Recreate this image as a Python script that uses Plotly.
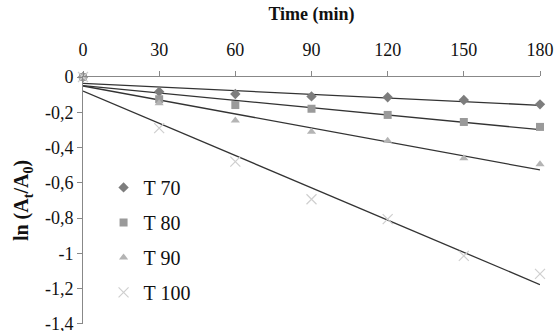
import numpy as np
import plotly.graph_objects as go

time_min = [0, 30, 60, 90, 120, 150, 180]
series_names = ["T 70", "T 80", "T 90", "T 100"]
t70 = [0, -0.083, -0.096, -0.110, -0.115, -0.130, -0.155]
t80 = [0, -0.126, -0.159, -0.180, -0.215, -0.255, -0.283]
t90 = [0, -0.149, -0.247, -0.310, -0.362, -0.460, -0.495]
t100 = [0, -0.290, -0.480, -0.693, -0.806, -1.014, -1.116]
y_tickvals = [0, -0.2, -0.4, -0.6, -0.8, -1.0, -1.2, -1.4]
y_ticktext = ["0", "-0,2", "-0,4", "-0,6", "-0,8", "-1", "-1,2", "-1,4"]
x_tickvals = [0, 30, 60, 90, 120, 150, 180]

values = [t70, t80, t90, t100]
symbols = ["diamond", "square", "triangle-up", "x-thin"]
colors = ["#7d7d7d", "#9a9a9a", "#b4b4b4", "#cfcfcf"]
sizes = [8, 8, 8, 10]

FONT = "Liberation Serif"
fig = go.Figure()

# trendlines (linear fits of the data)
for vals in values:
    slope, intercept = np.polyfit(time_min, vals, 1)
    xs = [min(time_min), max(time_min)]
    ys = [intercept + slope * x for x in xs]
    fig.add_trace(go.Scatter(x=xs, y=ys, mode="lines", showlegend=False,
                             line=dict(color="#333333", width=1.3), hoverinfo="skip"))

for i, (name, vals) in enumerate(zip(series_names, values)):
    marker = dict(symbol=symbols[i], color=colors[i], size=sizes[i])
    if symbols[i] == "x-thin":
        marker["line"] = dict(color=colors[i], width=1.2)
    fig.add_trace(go.Scatter(x=time_min, y=vals, mode="markers", name=name,
                             marker=marker, cliponaxis=False, legendgroup=name))

fig.update_layout(
    width=555, height=341,
    margin=dict(l=83, r=15, t=77, b=17, autoexpand=False),
    paper_bgcolor="white", plot_bgcolor="white",
    font=dict(family=FONT, size=18, color="#111111"),
    showlegend=True,
    legend=dict(x=0.045, y=0.632, xanchor="left", yanchor="top",
                font=dict(family=FONT, size=20, color="#111111"),
                tracegroupgap=6, itemwidth=30, bgcolor="rgba(0,0,0,0)"),
    xaxis=dict(range=[0, 180], side="top", tickvals=x_tickvals,
               ticks="outside", ticklen=5, tickcolor="#888888",
               ticklabelstandoff=8,
               showline=True, linecolor="#888888", linewidth=1,
               showgrid=False, zeroline=False,
               tickfont=dict(family=FONT, size=18),
               title=dict(text="<b>Time (min)</b>", font=dict(family=FONT, size=18), standoff=14)),
    yaxis=dict(range=[-1.4005, 0], tickvals=y_tickvals, ticktext=y_ticktext,
               ticks="outside", ticklen=5, tickcolor="#888888",
               showline=True, linecolor="#888888", linewidth=1,
               showgrid=False, zeroline=False,
               tickfont=dict(family=FONT, size=18),
               title=dict(text="<b>ln (A<sub>t</sub>/A<sub>0</sub>)</b>",
                          font=dict(family=FONT, size=20), standoff=10)),
)

fig.write_html("out.html", config={"displayModeBar": False},
               post_script="document.body.style.margin='0';document.body.style.overflow='hidden';")
